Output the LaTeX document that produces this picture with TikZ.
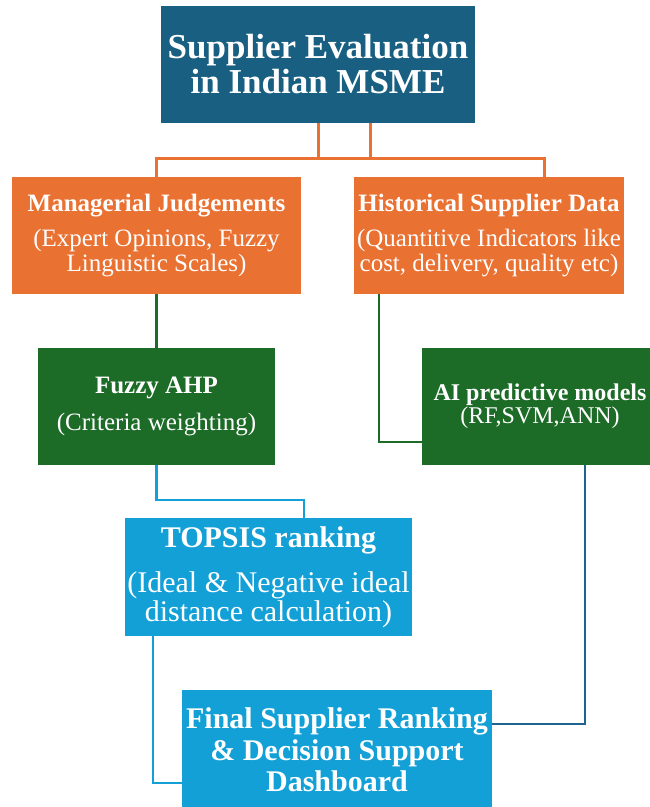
\documentclass[tikz,border=0pt]{standalone}
\usepackage{fontspec}
\setmainfont{Liberation Serif}
\usetikzlibrary{calc}

\definecolor{titleblue}{HTML}{185F82}
\definecolor{orangebox}{HTML}{E97132}
\definecolor{greenbox}{HTML}{1C6B27}
\definecolor{lightblue}{HTML}{12A0D7}
\definecolor{darkline}{HTML}{1F6391}

\begin{document}
\begin{tikzpicture}[x=1pt,y=-1pt,
  box/.style={inner sep=0pt,align=center,text=white,minimum height=117pt},
  title node/.style={box,fill=titleblue,font=\fontsize{35}{35}\selectfont\bfseries},
  input node/.style={box,fill=orangebox,font=\fontsize{25}{25}\selectfont},
  method node/.style={box,fill=greenbox,font=\fontsize{25}{25}\selectfont},
  result node/.style={box,fill=lightblue,font=\fontsize{30}{29}\selectfont},
  orange line/.style={draw=orangebox,line width=3pt},
  green line/.style={draw=greenbox,line width=2.5pt},
  blue line/.style={draw=lightblue,line width=2.5pt},
  dark line/.style={draw=darkline,line width=2.5pt}]
  \useasboundingbox (0,0) rectangle (650,807);

  \node[title node, minimum width=314pt] (title) at (318,64.5) {Supplier Evaluation\\in Indian MSME};
  \node[input node, minimum width=289pt] (manag) at (156.5,235.5) {\textbf{Managerial Judgements}\\[10pt](Expert Opinions, Fuzzy\\Linguistic Scales)};
  \node[input node, minimum width=270pt] (hist) at (489,235.5) {\textbf{Historical Supplier Data}\\[10pt](Quantitive Indicators like\\cost, delivery, quality etc)};
  \node[method node, minimum width=237pt] (fahp) at (156.5,406.5) {\textbf{Fuzzy AHP}\\[12pt](Criteria weighting)};
  \node[method node, font=\fontsize{24}{21}\selectfont, minimum width=236pt] (aipm) at (540,406.5) {\textbf{AI predictive models}\\(RF,SVM,ANN)};
  \node[result node, minimum width=287pt, minimum height=118pt] (topsis) at (268.5,577) {\textbf{TOPSIS ranking}\\[16pt](Ideal \& Negative ideal\\distance calculation)};
  \node[result node, font=\fontsize{30}{31.5}\selectfont\bfseries, minimum width=310pt, minimum height=120pt] (final) at (337,750) {Final Supplier Ranking\\\& Decision Support\\Dashboard};

  % joints
  \coordinate (obar) at (0,158);
  \coordinate (tr) at ([xshift=52pt]title.south);
  \coordinate (hl) at ([xshift=55pt]hist.north);
  \coordinate (hs) at ([xshift=-110pt]hist.south);
  \coordinate (aw) at ([yshift=-35.5pt]aipm.west);
  \coordinate (bbar) at (0,500);
  \coordinate (tn) at ([xshift=35.5pt]topsis.north);
  \coordinate (ts) at ([xshift=-115.5pt]topsis.south);
  \coordinate (fw) at ([yshift=-33pt]final.west);
  \coordinate (as) at ([xshift=45pt]aipm.south);
  \coordinate (fe) at ([yshift=26pt]final.east);

  \draw[orange line] (title.south) -- (title.south |- obar);
  \draw[orange line] (tr) -- (tr |- obar);
  \draw[orange line] (manag.north) -- (manag.north |- obar) -- (hl |- obar) -- (hl);
  \draw[green line] (manag.south) -- (fahp.north);
  \draw[green line] (hs) |- (aw);
  \draw[blue line] (fahp.south) -- (fahp.south |- bbar) -- (tn |- bbar) -- (tn);
  \draw[blue line] (ts) |- (fw);
  \draw[dark line] (as) |- (fe);
\end{tikzpicture}
\end{document}
